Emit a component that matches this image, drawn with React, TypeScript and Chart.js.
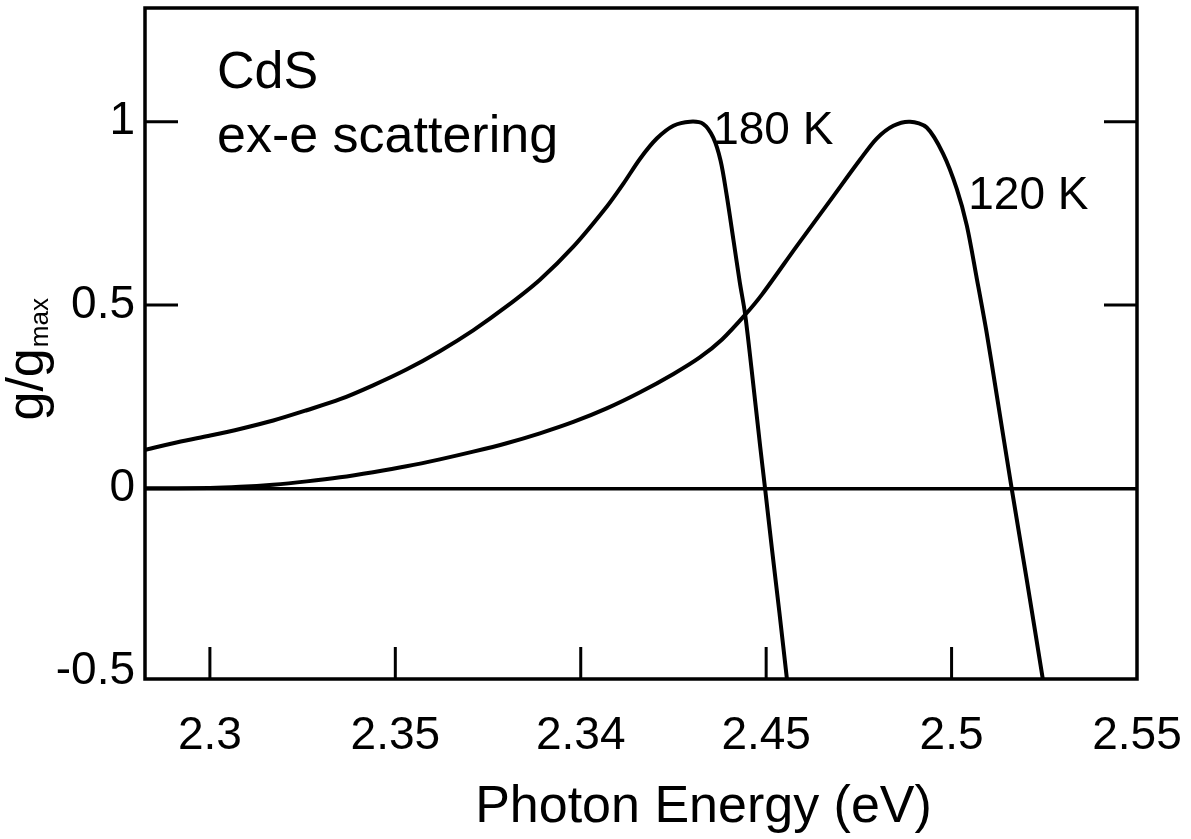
import React, { useEffect, useRef } from "react";
import { Chart, registerables } from "chart.js";

Chart.register(...registerables);

// ---- data ----
const energy180K = [
  2.2825, 2.2901, 2.2991, 2.3081, 2.3171, 2.3261, 2.3351, 2.344, 2.353, 2.362,
  2.371, 2.38, 2.389, 2.398, 2.407, 2.4115, 2.416, 2.4205, 2.425, 2.4295,
  2.433, 2.4357, 2.4377, 2.4393, 2.4412, 2.4429, 2.4443, 2.446, 2.4484, 2.4497,
  2.4515, 2.4536, 2.4556,
];
const gain180K = [
  0.105, 0.123, 0.142, 0.162, 0.185, 0.213, 0.243, 0.281, 0.324, 0.374,
  0.431, 0.496, 0.569, 0.659, 0.768, 0.831, 0.899, 0.954, 0.989, 1.0,
  0.994, 0.957, 0.894, 0.803, 0.676, 0.561, 0.477, 0.331, 0.113, 0.0,
  -0.16, -0.341, -0.52,
];

const energy120K = [
  2.2825, 2.3, 2.3081, 2.317, 2.3261, 2.3351, 2.344, 2.353, 2.362, 2.371,
  2.38, 2.389, 2.398, 2.407, 2.416, 2.425, 2.4321, 2.4381, 2.4444, 2.4489,
  2.4582, 2.4672, 2.4753, 2.4798, 2.4843, 2.4888, 2.4933, 2.4977, 2.5014, 2.5041,
  2.5068, 2.5095, 2.5122, 2.5162, 2.5203, 2.5246,
];
const gain120K = [
  0.0, 0.001, 0.004, 0.01, 0.019, 0.03, 0.044, 0.06, 0.079, 0.1,
  0.123, 0.15, 0.181, 0.218, 0.262, 0.312, 0.357, 0.406, 0.474, 0.529,
  0.66, 0.784, 0.896, 0.954, 0.989, 1.0, 0.984, 0.913, 0.817, 0.717,
  0.572, 0.422, 0.253, 0.0, -0.251, -0.52,
];

const xTickValues = [2.3, 2.35, 2.4, 2.45, 2.5, 2.55];
const xTickLabels = ["2.3", "2.35", "2.34", "2.45", "2.5", "2.55"];
const yTickValues = [-0.5, 0, 0.5, 1];
const yTickLabels = ["-0.5", "0", "0.5", "1"];
const innerTickValues = [0.5, 1];

const seriesNames = ["180 K", "120 K"];
const annotationLines = ["CdS", "ex-e scattering"];
const xTitle = "Photon Energy (eV)";
const yTitleMain = "g/g";
const yTitleSub = "max";

const FONT = "'Liberation Sans', Arial, Helvetica, sans-serif";

const toPoints = (xs: number[], ys: number[]) => xs.map((x, i) => ({ x, y: ys[i] }));

const zeroPadding = (scale: any) => {
  scale.paddingTop = 0;
  scale.paddingBottom = 0;
  scale.paddingLeft = 0;
  scale.paddingRight = 0;
};

export default function App() {
  const canvasRef = useRef<HTMLCanvasElement | null>(null);

  useEffect(() => {
    if (!canvasRef.current) return;

    // label anchors in data coordinates
    const labelAnchors = [
      { x: 2.4357, y: 0.94 },
      { x: 2.5045, y: 0.762 },
    ];

    const decorPlugin = {
      id: "decor",
      afterDraw(chart: any) {
        const ctx = chart.ctx as CanvasRenderingContext2D;
        const { left, right, top, bottom } = chart.chartArea;
        const xs = chart.scales.x;
        const ys = chart.scales.y;
        ctx.save();
        ctx.strokeStyle = "#000";
        ctx.fillStyle = "#000";
        ctx.lineWidth = 3.5;
        ctx.lineCap = "butt";
        // frame
        ctx.strokeRect(left, top, right - left, bottom - top);
        // inner tick marks
        ctx.lineWidth = 3;
        ctx.beginPath();
        xTickValues.forEach((v) => {
          const px = xs.getPixelForValue(v);
          if (px < right - 3) {
            ctx.moveTo(px, bottom);
            ctx.lineTo(px, bottom - 32);
          }
        });
        innerTickValues.forEach((v) => {
          const py = ys.getPixelForValue(v);
          ctx.moveTo(left, py);
          ctx.lineTo(left + 33, py);
          ctx.moveTo(right, py);
          ctx.lineTo(right - 33, py);
        });
        ctx.stroke();

        // annotation text
        ctx.textAlign = "left";
        ctx.textBaseline = "alphabetic";
        ctx.font = `52px ${FONT}`;
        ctx.fillText(annotationLines[0], left + 72, top + 80);
        ctx.fillText(annotationLines[1], left + 72, top + 144);

        // series labels
        ctx.font = `46px ${FONT}`;
        seriesNames.forEach((name, i) => {
          const a = labelAnchors[i];
          ctx.fillText(name, xs.getPixelForValue(a.x), ys.getPixelForValue(a.y));
        });

        // x axis title
        ctx.font = `52px ${FONT}`;
        ctx.textAlign = "center";
        ctx.fillText(xTitle, left + (right - left) * 0.563, bottom + 143);

        // y axis title, rotated, with subscript
        ctx.save();
        ctx.translate(43, ys.getPixelForValue(0.185));
        ctx.rotate(-Math.PI / 2);
        ctx.textAlign = "left";
        ctx.font = `52px ${FONT}`;
        ctx.fillText(yTitleMain, 0, 0);
        const w = ctx.measureText(yTitleMain).width;
        ctx.font = `26px ${FONT}`;
        ctx.fillText(yTitleSub, w + 1, 5);
        ctx.restore();

        ctx.restore();
      },
    };

    const chart = new Chart(canvasRef.current, {
      type: "line",
      data: {
        datasets: [
          {
            label: seriesNames[0],
            data: toPoints(energy180K, gain180K),
            borderColor: "#000",
            borderWidth: 4,
            pointRadius: 0,
            fill: false,
            tension: 0.3,
          },
          {
            label: seriesNames[1],
            data: toPoints(energy120K, gain120K),
            borderColor: "#000",
            borderWidth: 4,
            pointRadius: 0,
            fill: false,
            tension: 0.3,
          },
        ],
      },
      options: {
        animation: false,
        responsive: false,
        devicePixelRatio: 1,
        layout: { padding: { top: 8, right: 54, left: 0, bottom: 0 } },
        plugins: {
          legend: { display: false },
          tooltip: { enabled: false },
        },
        scales: {
          x: {
            type: "linear",
            min: 2.2825,
            max: 2.55,
            border: { display: false },
            grid: { display: false, drawTicks: false },
            afterBuildTicks: (scale: any) => {
              scale.ticks = xTickValues.map((v) => ({ value: v }));
            },
            afterFit: (scale: any) => {
              scale.height = 160;
              zeroPadding(scale);
            },
            ticks: {
              autoSkip: false,
              maxRotation: 0,
              minRotation: 0,
              padding: 30,
              color: "#000",
              font: { family: FONT, size: 46 },
              callback: (_v: any, i: number) => xTickLabels[i],
            },
          },
          y: {
            type: "linear",
            min: -0.52,
            max: 1.31,
            border: { display: false },
            grid: {
              drawTicks: false,
              lineWidth: 3.5,
              color: (c: any) => (c.tick && c.tick.value === 0 ? "#000" : "rgba(0,0,0,0)"),
            },
            afterBuildTicks: (scale: any) => {
              scale.ticks = yTickValues.map((v) => ({ value: v }));
            },
            afterFit: (scale: any) => {
              scale.width = 145;
              zeroPadding(scale);
            },
            ticks: {
              autoSkip: false,
              padding: 10,
              color: "#000",
              font: { family: FONT, size: 46 },
              callback: (_v: any, i: number) => yTickLabels[i],
            },
          },
        },
      },
      plugins: [decorPlugin],
    } as any);

    return () => chart.destroy();
  }, []);

  return (
    <div
      style={{
        position: "fixed",
        left: 0,
        top: 0,
        width: 1191,
        height: 839,
        background: "#fff",
      }}
    >
      <canvas ref={canvasRef} width={1191} height={839} style={{ display: "block" }} />
    </div>
  );
}
